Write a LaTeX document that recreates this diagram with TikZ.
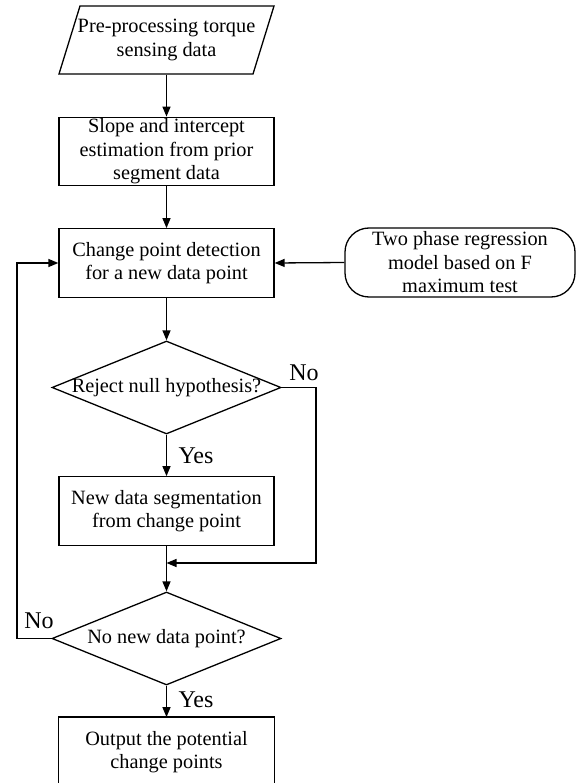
\documentclass[tikz,border=0pt]{standalone}
\usepackage{fontspec}
\setmainfont{Liberation Serif}
\usetikzlibrary{shapes.geometric,arrows.meta}
\begin{document}
\begin{tikzpicture}[x=1pt,y=-1pt,
  line width=1.3pt,
  every node/.style={font=\fontsize{20.3}{23.5}\selectfont, align=center},
  procbox/.style={draw, rectangle, minimum width=215, minimum height=68.5, inner sep=0},
  roundbox/.style={draw, rectangle, rounded corners=24, minimum width=230, minimum height=69, inner sep=0},
  decision/.style={draw, diamond, minimum width=229, minimum height=93, inner sep=0},
  paraspace/.style={rectangle, minimum width=0, minimum height=68, inner sep=0},
  lbl/.style={font=\fontsize{24}{26}\selectfont},
  arr/.style={-{Triangle[length=10pt,width=8pt]}}]
\useasboundingbox (0,0) rectangle (580,783);
\begin{scope}
\clip (0,0) rectangle (580,783);
% parallelogram
\node[paraspace] (p) at (166.5,40) {};
\draw (80,6) -- (274,6) -- (253,74) -- (59,74) -- cycle;
\node (ptext) at (166.5,40) {Pre-processing torque\\sensing data};
\node[procbox] (b2) at (166.5,151.5) {Slope and intercept\\estimation from prior\\segment data};
\node[procbox] (b3) at (166.5,263) {Change point detection\\for a new data point};
\node[roundbox] (r) at (460,262.5) {Two phase regression\\model based on F\\maximum test};
\node[decision] (d1) at (166.5,387.5) {};
\node (d1t) at (166.5,387.5) {Reject null hypothesis?};
\node[procbox] (b4) at (166.5,511) {New data segmentation\\from change point};
\node[decision] (d2) at (166.5,638.5) {};
\node (d2t) at (166.5,638.5) {No new data point?};
\node[procbox, draw=none] (b5) at (166.5,752) {Output the potential\\change points};
\draw ([yshift=-20pt]b5.south west) -- (b5.north west) -- (b5.north east) -- ([yshift=-20pt]b5.south east);
\coordinate (m) at (166.5,563);
\coordinate (nr) at (316,387.5);
\coordinate (nl) at (17,638.5);

\draw[arr] (p.south) -- (b2.north);
\draw[arr] (b2.south) -- (b3.north);
\draw[arr] (r.west) -- (b3.east);
\draw[arr] (b3.south) -- (d1.north);
\draw[arr] (d1.south) -- (b4.north);
\draw[arr] (b4.south) -- (d2.north);
\draw[arr] (d1.east) -- (nr) |- (m);
\draw[arr] (d2.west) -- (nl) |- (b3.west);
\draw[arr] (d2.south) -- (b5.north);

\node[lbl] (no1) at (304,373) {No};
\node[lbl] (yes1) at (196,455.5) {Yes};
\node[lbl] (no2) at (39,621) {No};
\node[lbl] (yes2) at (196,700) {Yes};
\end{scope}
\end{tikzpicture}
\end{document}
